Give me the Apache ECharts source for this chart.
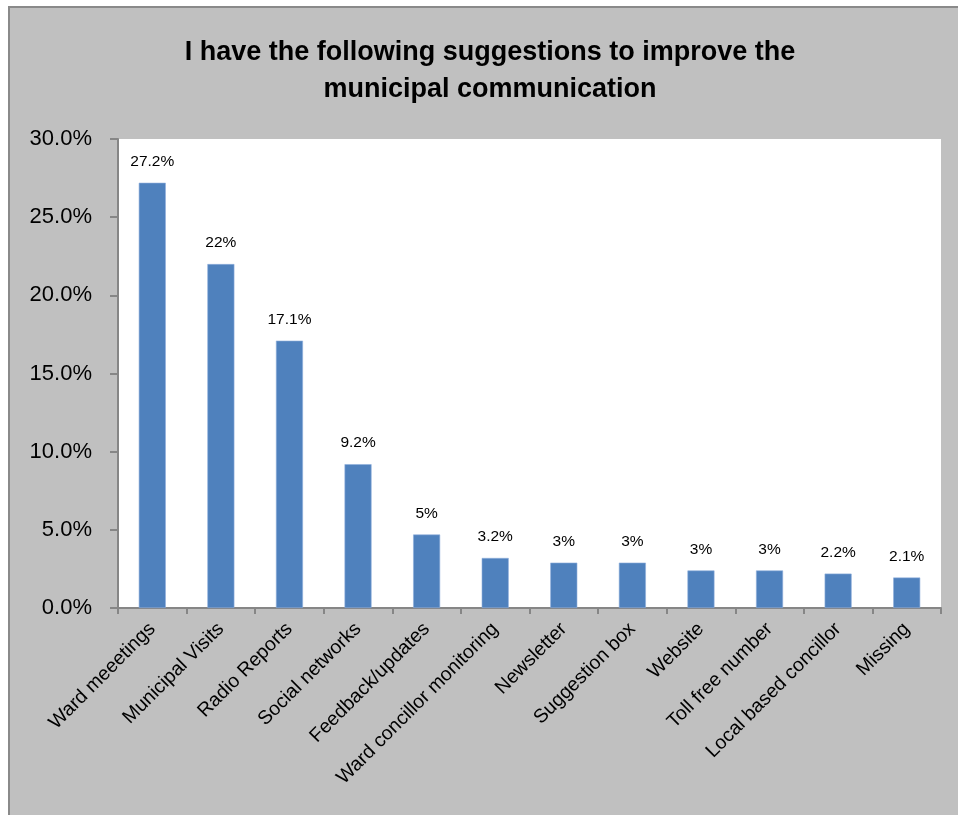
<!DOCTYPE html>
<html lang="en">
<head>
    <meta charset="UTF-8">
    <title>Municipal communication suggestions</title>
    <script src="https://cdn.jsdelivr.net/npm/echarts@6/dist/echarts.min.js"></script>
    <style>
        html, body { margin: 0; padding: 0; background: #fff; overflow: hidden; }
        #chart {
            position: absolute; left: 8px; top: 6px;
            width: 960px; height: 820px;
            border-left: 2px solid #8a8a8a; border-top: 2px solid #8a8a8a;
            background: #c0c0c0;
        }
    </style>
</head>
<body>
<div id="chart"></div>
<script>
    // categories (typos kept as in the source chart)
    const categories = ['Ward meeetings', 'Municipal Visits', 'Radio Reports', 'Social networks',
        'Feedback/updates', 'Ward concillor monitoring', 'Newsletter', 'Suggestion box',
        'Website', 'Toll free number', 'Local based concillor', 'Missing']
    // bar heights in percent
    const values = [27.2, 22.0, 17.1, 9.2, 4.7, 3.2, 2.9, 2.9, 2.4, 2.4, 2.2, 1.95]
    // the labels printed above the bars
    const barLabels = ['27.2%', '22%', '17.1%', '9.2%', '5%', '3.2%', '3%', '3%', '3%', '3%', '2.2%', '2.1%']
    const yTicks = [0, 5, 10, 15, 20, 25, 30]

    const axisGray = '#868686'
    const font = '"Liberation Sans", Arial, sans-serif'

    let myChart = echarts.init(document.getElementById('chart'))

    let option = {
        backgroundColor: 'transparent',
        textStyle: { fontFamily: font },
        title: {
            text: 'I have the following suggestions to improve the\nmunicipal communication',
            left: 'center',
            top: 21,
            textStyle: {
                fontFamily: font,
                fontSize: 27,
                fontWeight: 'bold',
                color: '#000',
                lineHeight: 37
            }
        },
        grid: {
            left: 108,
            right: 29,
            top: 131,
            bottom: 220,
            show: true,
            backgroundColor: '#fff',
            borderWidth: 0
        },
        xAxis: {
            type: 'category',
            data: categories,
            axisLine: { lineStyle: { color: axisGray, width: 2 } },
            axisTick: { show: true, length: 6, lineStyle: { color: axisGray, width: 2 } },
            axisLabel: {
                interval: 0,
                rotate: 45,
                margin: 18,
                fontSize: 19.5,
                color: '#000',
                fontFamily: font
            }
        },
        yAxis: {
            type: 'value',
            min: yTicks[0],
            max: yTicks[yTicks.length - 1],
            interval: 5,
            splitLine: { show: false },
            axisLine: { show: true, lineStyle: { color: axisGray, width: 2 } },
            axisTick: { show: true, length: 8, lineStyle: { color: axisGray, width: 2 } },
            axisLabel: {
                margin: 26,
                fontSize: 22,
                color: '#000',
                fontFamily: font,
                formatter: v => v.toFixed(1) + '%'
            }
        },
        series: [{
            type: 'bar',
            data: values,
            barWidth: 27,
            itemStyle: { color: '#4f81bd', borderColor: '#8eaedb', borderWidth: 0.6 },
            label: {
                show: true,
                position: 'top',
                distance: 13,
                fontSize: 15.5,
                color: '#000',
                fontFamily: font,
                formatter: p => barLabels[p.dataIndex]
            }
        }]
    }

    myChart.setOption(option)
</script>
</body>
</html>
